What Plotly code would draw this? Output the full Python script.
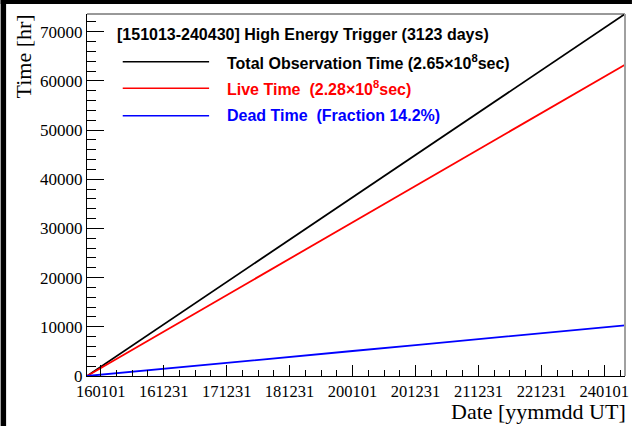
import plotly.graph_objects as go
import pandas as pd

# ---- data ----
dates = ["2015-10-13", "2016-01-01", "2017-01-01", "2018-01-01", "2019-01-01",
         "2020-01-01", "2021-01-01", "2022-01-01", "2023-01-01", "2024-01-01",
         "2024-04-30"]
total_hr = [0, 1890, 10510, 19120, 27720, 36330, 44950, 53560, 62170, 70770, 73600]
live_hr = [0, 1620, 9040, 16450, 23850, 31250, 38670, 46080, 53480, 60880, 63300]
dead_hr = [0, 270, 1470, 2670, 3870, 5080, 6280, 7480, 8690, 9890, 10300]

tick_dates = ["2016-01-01", "2016-12-31 06:00", "2017-12-31 12:00", "2018-12-31 18:00",
              "2020-01-01", "2020-12-31 06:00", "2021-12-31 12:00", "2022-12-31 18:00",
              "2024-01-01"]
tick_labels = ["160101", "161231", "171231", "181231", "200101", "201231",
               "211231", "221231", "240101"]

header = "[151013-240430] High Energy Trigger (3123 days)"
legend_names = ["Total Observation Time (2.65\u00d710<sup>8</sup>sec)",
                "Live Time  (2.28\u00d710<sup>8</sup>sec)",
                "Dead Time  (Fraction 14.2%)"]
colors = ["#000000", "#ff0000", "#0000ff"]
series = [total_hr, live_hr, dead_hr]

x_range = ["2015-10-13", "2024-04-30"]
y_range = [0, 73600]

# ---- layout geometry (pixels) ----
W, H = 636, 426
L, R, T, B = 87, 7, 14, 50
PW, PH = W - L - R, H - T - B

def px(x):
    return (x - L) / PW

def py(y):
    return (H - B - y) / PH

# minor ticks: quarter of 365.25-day steps
start = pd.Timestamp("2016-01-01")
step = pd.Timedelta(days=365.25 / 4)
minor_vals = [(start + step * k).strftime("%Y-%m-%d %H:%M:%S") for k in range(-1, 38)]
minor_vals = [v for v in minor_vals if x_range[0] <= v[:10] <= x_range[1]]

fig = go.Figure()
for name, ys, c in zip(legend_names, series, colors):
    fig.add_trace(go.Scatter(x=dates, y=ys, mode="lines", name=name,
                             line=dict(color=c, width=1.8), showlegend=False))

serif = "Liberation Serif"
sans = "Liberation Sans"

fig.update_layout(
    width=W, height=H,
    margin=dict(l=L, r=R, t=T, b=B, pad=0),
    paper_bgcolor="white", plot_bgcolor="white",
    showlegend=False,
    xaxis=dict(
        type="date", range=x_range,
        tickmode="array", tickvals=tick_dates, ticktext=tick_labels,
        ticks="inside", ticklen=11, tickwidth=1, tickcolor="black",
        tickfont=dict(family=serif, size=16.5, color="black"),
        showline=True, linecolor="black", linewidth=1,
        showgrid=False, zeroline=False,
        minor=dict(tickmode="array", tickvals=minor_vals, ticks="inside",
                   ticklen=6, tickwidth=1, tickcolor="black", showgrid=False),
    ),
    yaxis=dict(
        range=y_range, tickmode="linear", tick0=0, dtick=10000, tickformat="d",
        ticks="inside", ticklen=17, tickwidth=1, tickcolor="black",
        tickfont=dict(family=serif, size=17, color="black"),
        showline=True, linecolor="black", linewidth=1,
        showgrid=False, zeroline=False,
        minor=dict(dtick=2000, ticks="inside", ticklen=9, tickwidth=1,
                   tickcolor="black", showgrid=False),
    ),
)

shapes = []
# black bands on top and left edges of the canvas
shapes.append(dict(type="rect", xref="paper", yref="paper",
                   x0=px(0), x1=px(W), y0=py(4), y1=py(0),
                   fillcolor="black", line=dict(width=0), layer="above"))
shapes.append(dict(type="rect", xref="paper", yref="paper",
                   x0=px(0), x1=px(5.5), y0=py(H), y1=py(0),
                   fillcolor="black", line=dict(width=0), layer="above"))
# frame top and right
shapes.append(dict(type="line", xref="paper", yref="paper", x0=0, x1=1, y0=1, y1=1,
                   line=dict(color="#333333", width=1)))
shapes.append(dict(type="line", xref="paper", yref="paper", x0=1, x1=1, y0=0, y1=1,
                   line=dict(color="#a0a0a0", width=2)))

# legend lines
leg_y = [61.7, 88.3, 115.7]
for yy, c in zip(leg_y, colors):
    shapes.append(dict(type="line", xref="paper", yref="paper",
                       x0=px(123), x1=px(210), y0=py(yy), y1=py(yy),
                       line=dict(color=c, width=1.5)))
fig.update_layout(shapes=shapes)

ann = []
ann.append(dict(text=header, xref="paper", yref="paper", x=px(115), y=py(34.5),
                xanchor="left", yanchor="middle", showarrow=False,
                font=dict(family=sans, size=16, color="black", weight="bold")))
for yy, name, c in zip(leg_y, legend_names, colors):
    ann.append(dict(text=name, xref="paper", yref="paper", x=px(226), y=py(yy),
                    xanchor="left", yanchor="middle", showarrow=False,
                    font=dict(family=sans, size=16, color=c, weight="bold")))
# axis titles
ann.append(dict(text="Time [hr]", xref="paper", yref="paper", x=px(24), y=py(12),
                xanchor="center", yanchor="top", textangle=-90, showarrow=False,
                font=dict(family=serif, size=22, color="black")))
ann.append(dict(text="Date [yymmdd UT]", xref="paper", yref="paper", x=px(632), y=py(411),
                xanchor="right", yanchor="middle", showarrow=False,
                font=dict(family=serif, size=22, color="black")))
fig.update_layout(annotations=ann)

fig.write_html("out.html")
